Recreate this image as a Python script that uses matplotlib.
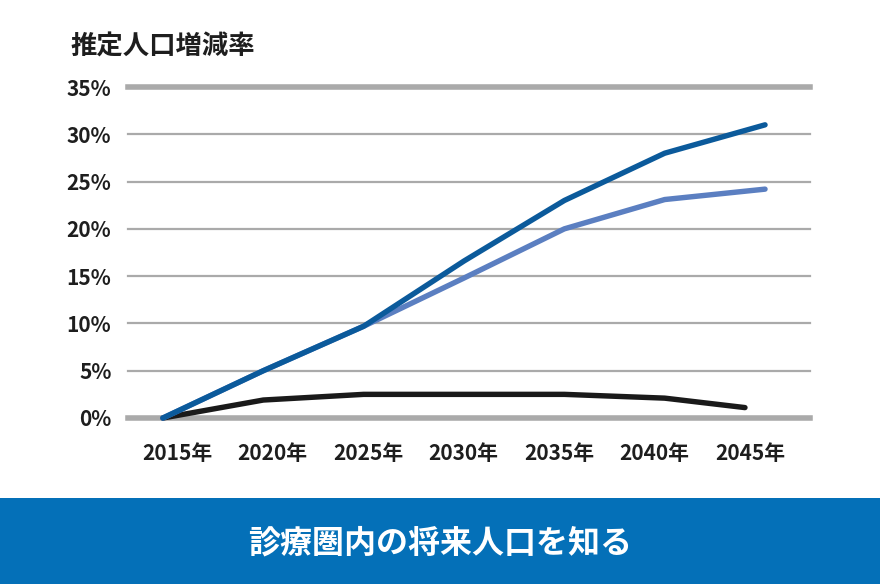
import numpy as np
import matplotlib.pyplot as plt
from matplotlib.patches import Rectangle

plt.rcParams['font.family'] = ['Noto Sans CJK JP', 'DejaVu Sans']

years = [2015, 2020, 2025, 2030, 2035, 2040, 2045]
black_years = [2015, 2020, 2025, 2030, 2035, 2040, 2044]
dark = [0.0, 5.0, 9.7, 16.6, 23.0, 28.0, 31.0]
light = [0.0, 5.0, 9.7, 14.8, 20.0, 23.1, 24.2]
black = [0.0, 1.9, 2.5, 2.5, 2.5, 2.1, 1.1]
xlabels = ['2015年', '2020年', '2025年', '2030年', '2035年', '2040年', '2045年']
yticks = [0, 5, 10, 15, 20, 25, 30, 35]

fig = plt.figure(figsize=(8.8, 5.84), dpi=100)
ax = fig.add_axes([128 / 880, 1 - 418 / 584, (810 - 128) / 880, (418 - 87) / 584])

for v in yticks:
    lw = 4 if v in (0, 35) else 1.6
    ax.axhline(v, color='#aaaaaa', lw=lw, zorder=1, clip_on=False)

ax.plot(years, light, color='#5b7fc1', lw=3.9, solid_capstyle='round', zorder=3, clip_on=False)
ax.plot(years, dark, color='#0b5a9b', lw=3.9, solid_capstyle='round', zorder=4, clip_on=False)
ax.plot(black_years, black, color='#1a1a1a', lw=3.9, solid_capstyle='round', zorder=2, clip_on=False)

ax.set_xlim(2013.26, 2047.24)
ax.set_ylim(0, 35)
ax.set_yticks(yticks)
ax.set_yticklabels([f'{v}%' for v in yticks], fontsize=15, fontweight='bold', color='#1e1e1e')
ax.set_xticks(np.linspace(2015.7, 2044.25, 7))
ax.set_xticklabels(xlabels, fontsize=15, fontweight='bold', color='#1e1e1e')
ax.tick_params(length=0)
ax.tick_params(axis='y', pad=12)
ax.tick_params(axis='x', pad=18)
for s in ax.spines.values():
    s.set_visible(False)

fig.text(70 / 880, 1 - 47 / 584, '推定人口増減率', fontsize=19, fontweight='bold',
         color='#1e1e1e', va='center', ha='left')

fig.patches.append(Rectangle((0, 0), 1, 86 / 584, transform=fig.transFigure,
                             facecolor='#0470b8', edgecolor='none', zorder=0))
fig.text(0.5, 1 - 543 / 584, '診療圏内の将来人口を知る', fontsize=23, fontweight='bold',
         color='white', ha='center', va='center')

fig.savefig('out.png', dpi=100)
